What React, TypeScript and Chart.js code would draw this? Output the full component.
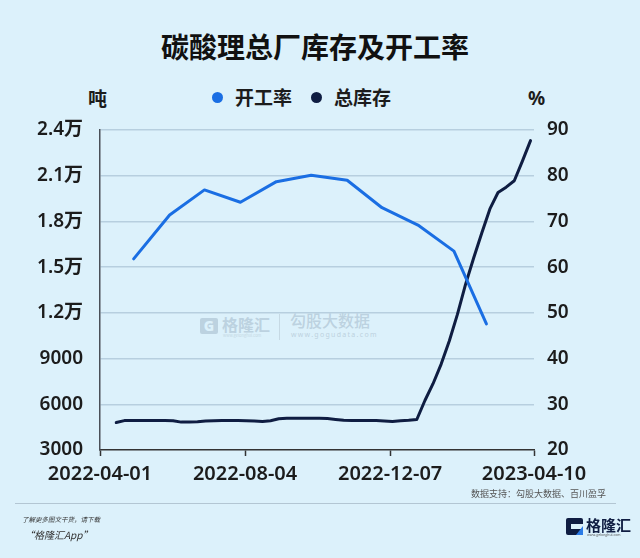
import React, { useEffect, useRef } from "react";
import { Chart, registerables } from "chart.js";

Chart.register(...registerables);

// ---- data ----
const startDate = "2022-04-01";
const tickDates = ["2022-04-01", "2022-08-04", "2022-12-07", "2023-04-10"];

const leftTicks = [3000, 6000, 9000, 12000, 15000, 18000, 21000, 24000];
const leftTickLabels = ["3000", "6000", "9000", "1.2万", "1.5万", "1.8万", "2.1万", "2.4万"];
const rightTicks = [20, 30, 40, 50, 60, 70, 80, 90];

const rateDates = [
  "2022-04-30", "2022-05-31", "2022-06-30", "2022-07-31", "2022-08-31", "2022-09-30",
  "2022-10-31", "2022-11-30", "2022-12-31", "2023-01-31", "2023-02-28",
];
const rateValues = [61.8, 71.4, 76.9, 74.2, 78.7, 80.1, 79.0, 73.0, 69.2, 63.5, 47.6];

const stockDates = [
  "2022-04-15", "2022-04-22", "2022-04-29", "2022-05-06", "2022-05-13", "2022-05-20", "2022-05-27",
  "2022-06-03", "2022-06-10", "2022-06-17", "2022-06-24", "2022-07-01", "2022-07-08", "2022-07-15",
  "2022-07-22", "2022-07-29", "2022-08-05", "2022-08-12", "2022-08-19", "2022-08-26", "2022-09-02",
  "2022-09-09", "2022-09-16", "2022-09-23", "2022-09-30", "2022-10-07", "2022-10-14", "2022-10-21",
  "2022-10-28", "2022-11-04", "2022-11-11", "2022-11-18", "2022-11-25", "2022-12-02", "2022-12-09",
  "2022-12-16", "2022-12-23", "2022-12-30", "2023-01-06", "2023-01-13", "2023-01-20", "2023-01-27",
  "2023-02-03", "2023-02-10", "2023-02-17", "2023-02-24", "2023-03-03", "2023-03-10", "2023-03-17",
  "2023-03-24", "2023-03-31", "2023-04-07",
];
const stockValues = [
  4800, 4930, 4940, 4940, 4940, 4930, 4930, 4920, 4830, 4830, 4850, 4900, 4920, 4930,
  4930, 4930, 4920, 4900, 4870, 4920, 5050, 5090, 5090, 5090, 5090, 5080, 5060, 5000,
  4950, 4930, 4930, 4930, 4930, 4900, 4870, 4920, 4950, 5000, 6250, 7350, 8640, 10150,
  11900, 13870, 15600, 17240, 18820, 19900, 20250, 20670, 21960, 23300,
];

const seriesNames = ["开工率", "总库存"];

// ---- styles ----
const BG = "#dcf1fb";
const BLUE = "#1a6ee3";
const NAVY = "#0f1d42";
const GRID = "#b7cfdf";
const TEXT = "#1c1c1c";
const FONT = "'Noto Sans', 'Noto Sans CJK SC', sans-serif";
const CJK = "'Noto Sans CJK SC', 'Noto Sans', sans-serif";

const DAY = 86400000;
const dayOf = (d: string) => Math.round((Date.parse(d) - Date.parse(startDate)) / DAY);

export default function App() {
  const ref = useRef<HTMLCanvasElement>(null);

  useEffect(() => {
    const canvas = ref.current;
    if (!canvas) return;
    const tickFont = { family: FONT, size: 19, weight: "600" as any };
    const chart = new Chart(canvas, {
      type: "line",
      data: {
        datasets: [
          {
            label: seriesNames[0],
            data: rateDates.map((d, i) => ({ x: dayOf(d), y: rateValues[i] })),
            borderColor: BLUE,
            backgroundColor: BLUE,
            borderWidth: 3,
            pointRadius: 0,
            tension: 0,
            borderJoinStyle: "round",
            borderCapStyle: "round",
            yAxisID: "y1",
          },
          {
            label: seriesNames[1],
            data: stockDates.map((d, i) => ({ x: dayOf(d), y: stockValues[i] })),
            borderColor: NAVY,
            backgroundColor: NAVY,
            borderWidth: 3,
            pointRadius: 0,
            tension: 0,
            borderJoinStyle: "round",
            borderCapStyle: "round",
            yAxisID: "y",
          },
        ],
      },
      options: {
        responsive: false,
        animation: false,
        devicePixelRatio: 1,
        layout: { padding: { top: 130, left: 0, right: 0, bottom: 68 } },
        plugins: {
          legend: { display: false },
          title: { display: false },
          tooltip: { enabled: false },
        },
        scales: {
          x: {
            type: "linear",
            min: 0,
            max: dayOf(tickDates[tickDates.length - 1]),
            afterBuildTicks: (scale: any) => {
              scale.ticks = tickDates.map((d) => ({ value: dayOf(d) }));
            },
            afterFit: (scale: any) => {
              scale.height = 40;
            },
            ticks: {
              autoSkip: false,
              maxRotation: 0,
              padding: 6,
              color: TEXT,
              font: { family: FONT, size: 20, weight: "600" as any },
              callback: (v: any) => {
                const idx = tickDates.findIndex((d) => dayOf(d) === v);
                return idx >= 0 ? tickDates[idx] : "";
              },
            },
            grid: {
              drawOnChartArea: false,
              drawTicks: true,
              tickLength: 6,
              tickWidth: 1.5,
              color: "#333",
            },
            border: { display: true, color: "#333", width: 1.5 },
          },
          y: {
            type: "linear",
            position: "left",
            min: 3000,
            max: 24000,
            afterBuildTicks: (scale: any) => {
              scale.ticks = leftTicks.map((v) => ({ value: v }));
            },
            afterFit: (scale: any) => {
              scale.width = 100;
            },
            ticks: {
              padding: 17,
              color: TEXT,
              font: tickFont,
              callback: (v: any) => {
                const idx = leftTicks.indexOf(v);
                return idx >= 0 ? leftTickLabels[idx] : "";
              },
            },
            grid: {
              drawTicks: false,
              lineWidth: 1.5,
              color: (c: any) => (c.tick && c.tick.value === 3000 ? "rgba(0,0,0,0)" : GRID),
            },
            border: { display: true, color: "#4a4f57", width: 1.5 },
          },
          y1: {
            type: "linear",
            position: "right",
            min: 20,
            max: 90,
            afterBuildTicks: (scale: any) => {
              scale.ticks = rightTicks.map((v) => ({ value: v }));
            },
            afterFit: (scale: any) => {
              scale.width = 106;
            },
            ticks: {
              padding: 13,
              color: TEXT,
              font: tickFont,
            },
            grid: { display: false, drawTicks: false },
            border: { display: false },
          },
        },
      },
    });
    return () => chart.destroy();
  }, []);

  const abs = (s: React.CSSProperties): React.CSSProperties => ({ position: "absolute", whiteSpace: "nowrap", ...s });

  return (
    <div
      style={{
        position: "fixed",
        left: 0,
        top: 0,
        width: 640,
        height: 558,
        background: BG,
        overflow: "hidden",
        fontFamily: CJK,
      }}
    >
      {/* title */}
      <div style={abs({ left: 0, top: 30, width: 630, textAlign: "center", fontSize: 28, lineHeight: "32px", fontWeight: 700, color: "#111" })}>
        碳酸理总厂库存及开工率
      </div>

      {/* units */}
      <div style={abs({ left: 88, top: 86, fontSize: 19, lineHeight: "24px", fontWeight: 700, color: TEXT })}>吨</div>
      <div style={abs({ left: 528, top: 86, fontSize: 19, lineHeight: "24px", fontWeight: 700, color: TEXT, fontFamily: FONT })}>%</div>

      {/* legend */}
      <div style={abs({ left: 212, top: 92, width: 11, height: 11, borderRadius: 6, background: BLUE })} />
      <div style={abs({ left: 235, top: 85, fontSize: 19, lineHeight: "24px", fontWeight: 600, color: TEXT })}>{seriesNames[0]}</div>
      <div style={abs({ left: 311, top: 92, width: 11, height: 11, borderRadius: 6, background: NAVY })} />
      <div style={abs({ left: 334, top: 85, fontSize: 19, lineHeight: "24px", fontWeight: 600, color: TEXT })}>{seriesNames[1]}</div>

      {/* watermark */}
      <div style={abs({ left: 200, top: 318, width: 18, height: 16, borderRadius: 2, background: "#bcd2e0", color: BG, fontSize: 14, lineHeight: "16px", fontWeight: 900, textAlign: "center", fontFamily: FONT })}>G</div>
      <div style={abs({ left: 222, top: 314, fontSize: 16, lineHeight: "20px", fontWeight: 700, color: "#bcd2e0" })}>格隆汇</div>
      <div style={abs({ left: 223, top: 333, fontSize: 4, lineHeight: "5px", color: "#c3d7e3" })}>www.gelonghui.com</div>
      <div style={abs({ left: 279, top: 314, width: 1, height: 26, background: "#c6d9e4" })} />
      <div style={abs({ left: 290, top: 310, fontSize: 16, lineHeight: "20px", fontWeight: 500, color: "#bcd2e0" })}>勾股大数据</div>
      <div style={abs({ left: 291, top: 331, fontSize: 7, lineHeight: "8px", letterSpacing: 1.3, color: "#bcd2e0", fontFamily: FONT })}>www.gogudata.com</div>

      {/* chart */}
      <canvas ref={ref} width={640} height={558} style={{ position: "absolute", left: 0, top: 0, width: 640, height: 558 }} />

      {/* footer */}
      <div style={abs({ right: 34, top: 488, fontSize: 9, lineHeight: "12px", color: "#555" })}>数据支持：勾股大数据、百川盈孚</div>
      <div style={abs({ left: 15, top: 503, width: 601, height: 1, background: "#b3c6d3" })} />
      <div style={abs({ left: 22, top: 515, fontSize: 6.5, lineHeight: "9px", color: "#333", fontStyle: "italic" })}>了解更多图文干货，请下载</div>
      <div style={abs({ left: 24, top: 528, fontSize: 10, lineHeight: "13px", color: "#333", fontStyle: "italic" })}>“格隆汇App”</div>

      <div style={abs({ left: 566, top: 518, width: 17, height: 17, borderRadius: 2, background: NAVY })} />
      <div style={abs({ left: 571, top: 524, width: 12, height: 5, background: BG })} />
      <div style={abs({ left: 576, top: 526, width: 0, height: 0, borderLeft: "7px solid transparent", borderBottom: "9px solid #2b7be6" })} />
      <div style={abs({ left: 586, top: 515, fontSize: 15, lineHeight: "19px", fontWeight: 700, color: NAVY })}>格隆汇</div>
      <div style={abs({ left: 587, top: 533, fontSize: 3.5, lineHeight: "4px", color: "#555" })}>www.gelonghui.com</div>
    </div>
  );
}
